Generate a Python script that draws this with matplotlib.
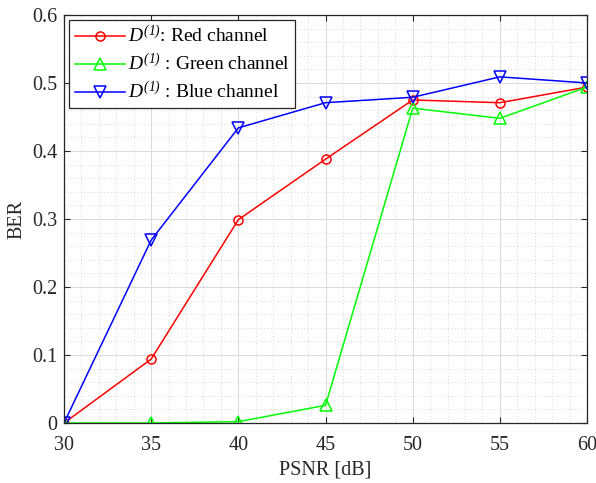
import numpy as np
import matplotlib.pyplot as plt
from matplotlib.ticker import MultipleLocator

plt.rcParams['font.family'] = ['Liberation Serif', 'DejaVu Serif']
plt.rcParams['mathtext.fontset'] = 'custom'
plt.rcParams['mathtext.rm'] = 'Liberation Serif'
plt.rcParams['mathtext.it'] = 'Liberation Serif:italic'
# italic digits: the 'it' slot forces non-letters upright, so borrow 'sf'
plt.rcParams['mathtext.sf'] = 'Liberation Serif:italic'

# data
psnr = [30, 35, 40, 45, 50, 55, 60]
ber_red = [0.0, 0.094, 0.299, 0.388, 0.475, 0.471, 0.494]
ber_green = [0.0, 0.0, 0.002, 0.026, 0.463, 0.448, 0.494]
ber_blue = [0.0, 0.269, 0.434, 0.471, 0.479, 0.509, 0.500]

labels = [r'$D^{\mathsf{(1)}}$: Red channel',
          r'$D^{\mathsf{(1)}}$ : Green channel',
          r'$D^{\mathsf{(1)}}$ : Blue channel']

fig = plt.figure(figsize=(5.96, 4.83), dpi=100)
ax = fig.add_axes([0.1074, 0.1242, 0.8776, 0.8448])

ax.plot(psnr, ber_red, '-o', color=(1, 0, 0), mfc='none', ms=6.5, lw=1.1, mew=1.1, label=labels[0])
ax.plot(psnr, ber_green, '-^', color=(0, 1, 0), mfc='none', ms=8.5, lw=1.1, mew=1.1, label=labels[1])
ax.plot(psnr, ber_blue, '-v', color=(0, 0, 1), mfc='none', ms=8.5, lw=1.1, mew=1.1, label=labels[2])

ax.set_xlim(30, 60)
ax.set_ylim(0, 0.6)
ax.xaxis.set_major_locator(MultipleLocator(5))
ax.xaxis.set_minor_locator(MultipleLocator(1))
ax.yaxis.set_minor_locator(MultipleLocator(0.02))
ax.set_yticks([0, 0.1, 0.2, 0.3, 0.4, 0.5, 0.6])
ax.set_yticklabels(['0', '0.1', '0.2', '0.3', '0.4', '0.5', '0.6'])

ax.grid(which='major', color='#dcdcdc', lw=0.8, ls='-')
ax.grid(which='minor', color='#c8c8c8', lw=0.6, ls=(0, (1, 3)))
ax.set_axisbelow(True)
ax.tick_params(which='both', direction='in', top=True, right=True, labelsize=14.5,
               color='#262626', labelcolor='#262626')
ax.tick_params(which='major', length=4.5)
ax.tick_params(which='minor', length=0)
ax.tick_params(axis='x', pad=9)
ax.tick_params(axis='y', pad=5)
for s in ax.spines.values():
    s.set_color('#262626')
    s.set_linewidth(0.9)

ax.set_xlabel('PSNR [dB]', fontsize=14.5, color='#262626', labelpad=4)
ax.set_ylabel('BER', fontsize=14.5, color='#262626', labelpad=4)

leg = ax.legend(loc='upper left', fontsize=14, fancybox=False, edgecolor='#262626',
                framealpha=1, borderaxespad=0.25, handlelength=2.6, borderpad=0.3,
                labelspacing=0.35, handletextpad=0.12)
leg.get_frame().set_linewidth(0.9)

fig.savefig('out.png', dpi=100)
